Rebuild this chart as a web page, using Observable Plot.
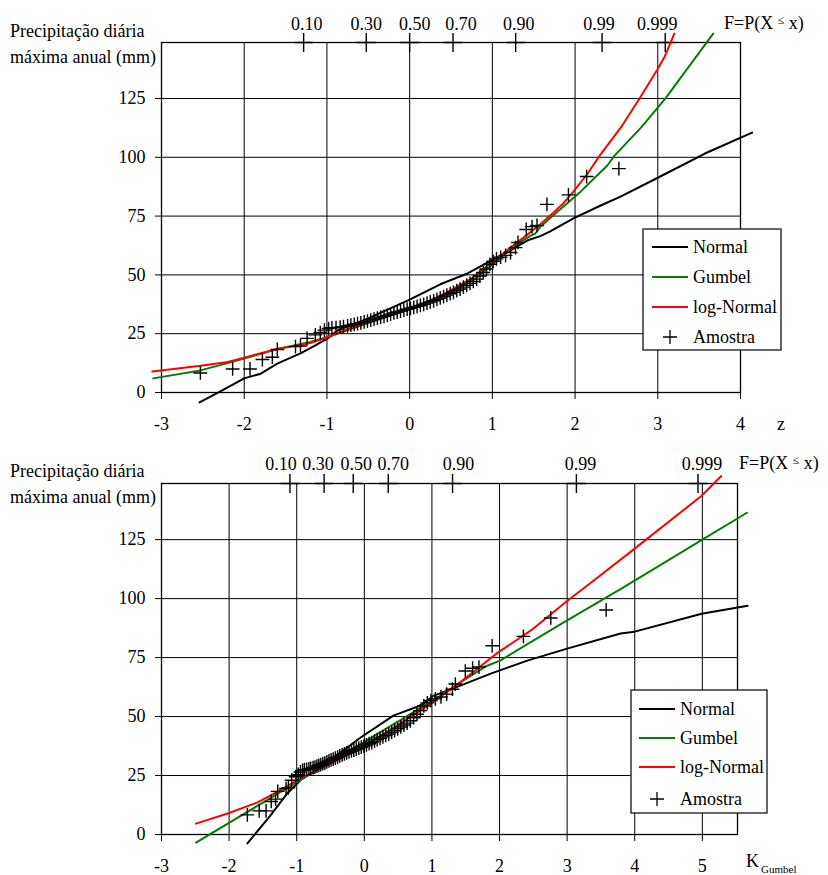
<!DOCTYPE html>
<html>
<head>
<meta charset="utf-8">
<script src="https://cdn.jsdelivr.net/npm/d3@7"></script>
<script src="https://cdn.jsdelivr.net/npm/@observablehq/plot@0.6"></script>
<style>
  body { margin: 0; background: #fff; }
  #wrap { position: relative; width: 828px; height: 875px; overflow: hidden; }
  #wrap, #wrap svg, #wrap svg text { font-family: 'Liberation Serif', serif !important; }
  #wrap svg { display: block; }
  .chart { position: absolute; left: 0; }
  #overlay { position: absolute; left: 0; top: 0; pointer-events: none; }
</style>
</head>
<body>
<div id="wrap">
  <div id="c1" class="chart" style="top:0px"></div>
  <div id="c2" class="chart" style="top:437px"></div>
  <svg id="overlay" width="828" height="875"></svg>
</div>
<script>
// ---------- DATA ----------
const yTicks = [0, 25, 50, 75, 100, 125];
const zAxisTicks = [-3, -2, -1, 0, 1, 2, 3, 4];
const kAxisTicks = [-3, -2, -1, 0, 1, 2, 3, 4, 5];

const probLabels = ["0.10", "0.30", "0.50", "0.70", "0.90", "0.99", "0.999"];
const probZ = [-1.2816, -0.5244, 0, 0.5244, 1.2816, 2.3263, 3.0902];
const probK = [-1.100, -0.595, -0.164, 0.354, 1.305, 3.137, 4.936];

// sample (Amostra): precipitation (mm), position on normal paper (z), position on Gumbel paper (K)
const amostraMM = [
  8.3, 10.0, 10.0, 14.0, 15.0, 18.3, 19.5, 19.8, 23.0, 24.5,
  25.5, 26.5, 27.2, 27.5, 27.6, 27.8, 28.0, 28.3, 28.6, 29.0,
  29.3, 29.6, 30.0, 30.3, 30.8, 31.2, 31.6, 32.0, 32.4, 32.8,
  33.3, 33.8, 34.2, 34.6, 35.0, 35.4, 35.8, 36.2, 36.6, 37.0,
  37.5, 38.0, 38.5, 39.0, 39.6, 40.2, 40.8, 41.4, 42.0, 42.6,
  43.3, 44.0, 44.8, 45.6, 46.4, 47.2, 48.2, 49.5, 51.0, 52.5,
  54.5, 55.8, 56.8, 57.5, 58.3, 59.5, 61.6, 63.8, 69.3, 70.5,
  71.0, 80.0, 84.0, 91.8, 95.2
];
const amostraZ = [
  -2.53, -2.14, -1.93, -1.78, -1.66, -1.60, -1.38, -1.32, -1.24, -1.14,
  -1.08, -1.03, -0.98, -0.94, -0.89, -0.84, -0.80, -0.75, -0.71, -0.67,
  -0.63, -0.59, -0.55, -0.51, -0.47, -0.43, -0.39, -0.35, -0.31, -0.27,
  -0.23, -0.19, -0.15, -0.11, -0.07, -0.03, 0.01, 0.05, 0.09, 0.13,
  0.17, 0.21, 0.25, 0.29, 0.33, 0.37, 0.41, 0.45, 0.49, 0.53,
  0.57, 0.61, 0.65, 0.69, 0.73, 0.77, 0.81, 0.85, 0.89, 0.93,
  0.97, 1.01, 1.05, 1.10, 1.16, 1.22, 1.28, 1.31, 1.41, 1.48,
  1.54, 1.66, 1.92, 2.14, 2.53
];
const amostraK = [
  -1.730, -1.555, -1.453, -1.377, -1.313, -1.281, -1.158, -1.123, -1.075, -1.014,
  -0.976, -0.945, -0.913, -0.886, -0.853, -0.820, -0.793, -0.758, -0.730, -0.701,
  -0.673, -0.644, -0.614, -0.584, -0.554, -0.523, -0.492, -0.460, -0.428, -0.395,
  -0.363, -0.329, -0.295, -0.261, -0.226, -0.190, -0.155, -0.119, -0.082, -0.045,
  -0.007, 0.032, 0.071, 0.110, 0.151, 0.191, 0.233, 0.275, 0.317, 0.361,
  0.404, 0.448, 0.494, 0.540, 0.586, 0.634, 0.681, 0.730, 0.779, 0.829,
  0.880, 0.932, 0.985, 1.051, 1.134, 1.218, 1.303, 1.347, 1.494, 1.602,
  1.696, 1.891, 2.353, 2.758, 3.577
];

// fitted distributions on normal paper: [z, mm]
const normalZ = [[-2.54,-4.2],[-2.3,0.3],[-2.0,6.0],[-1.8,8.0],[-1.6,12.3],[-1.32,16.6],[-1.14,20.0],[-0.99,23.0],[-0.87,26.4],[-0.5,31.5],[0,39.5],[0.37,46],[0.7,50.6],[0.98,56],[1.22,60.4],[1.42,64.6],[1.58,66.5],[1.7,68.5],[1.98,74],[2.31,79.5],[2.55,83.3],[3.0,91.3],[3.57,101.6],[4.14,110.5]];
const gumbelZ = [[-3.1,6.0],[-2.53,9.4],[-2.2,12.5],[-2.0,14.4],[-1.6,18.5],[-1.2,21.5],[-1.0,23.5],[-0.5,29.5],[0,35.5],[0.5,42.5],[0.8,48.5],[1.0,54.5],[1.32,63.6],[1.46,66.6],[1.52,67.6],[1.58,70.5],[1.79,77.0],[2.07,85.5],[2.39,96.5],[2.48,100.8],[2.8,112.7],[3.1,125.4],[3.36,137.8],[3.67,152.6]];
const logNormalZ = [[-3.11,8.9],[-2.5,11.5],[-2.2,13.0],[-2.0,14.8],[-1.6,18.5],[-1.2,21.0],[-1.0,23.4],[-0.75,27.0],[-0.4,31.0],[0,35.5],[0.13,36.8],[0.46,42.8],[0.75,48.5],[0.99,55.3],[1.22,61.6],[1.42,67.0],[1.58,71.5],[1.74,76.5],[1.86,80.5],[1.98,85.4],[2.15,93.0],[2.30,100.8],[2.57,113.5],[2.78,125],[2.99,137],[3.08,142.5],[3.2,152.6]];

// fitted distributions on Gumbel paper: [K, mm]
const normalK = [[-1.73,-3.8],[-1.39,8],[-1.14,17.4],[-0.95,22.9],[-0.45,32.6],[-0.06,41],[0.43,50.4],[0.83,54.7],[1.03,58.9],[1.42,63.1],[1.87,68.2],[2.41,73.7],[3.0,78.8],[3.79,85.2],[4.0,86.0],[4.99,93.6],[5.67,97]];
const gumbelK = [[-2.49,-3.4],[-1.5,13.5],[-1.0,22.2],[0,39.3],[1.0,56.5],[1.42,64.5],[1.79,71.2],[2.01,73.7],[2.4,80.5],[3.0,90.8],[3.79,104],[4.5,116.3],[5.0,125],[5.66,136.4]];
const logNormalK = [[-2.49,4.6],[-2.02,8.9],[-1.58,13.6],[-1.39,16.5],[-1.05,22],[-0.8,25.8],[-0.06,36.4],[0.83,52.5],[1.32,62.3],[1.97,77],[2.46,86.4],[3.0,99],[3.39,107.6],[4.0,121.2],[4.99,143.6],[5.28,152]];

// ---------- LAYOUT ----------
const FONT = "Liberation Serif";
const yDomain = [0, 148.8];

function makeChart({xDomain, xTicks, probPos, nudges, samplesX, curves, height, mt, mb, mr, labelDy}) {
  const sample = amostraMM.map((v, i) => ({x: samplesX[i], y: v}));
  const marks = [
    Plot.gridX(xTicks, {stroke: "black", strokeOpacity: 1, strokeWidth: 1}),
    Plot.gridY(yTicks, {stroke: "black", strokeOpacity: 1, strokeWidth: 1}),
    Plot.frame({stroke: "black", strokeWidth: 1.3}),
    Plot.axisY(yTicks, {tickSize: 6, tickPadding: 10, label: null, fontSize: 18, tickFormat: d => String(d)}),
    Plot.axisX(xTicks, {tickSize: 7, tickPadding: 18, label: null, fontSize: 18, tickFormat: d => d < 0 ? "-" + Math.abs(d) : String(d)}),
    Plot.dot(probPos, {x: d => d, frameAnchor: "top", symbol: "plus", r: 6.1, stroke: "black", strokeWidth: 1.4}),
    ...probPos.map((p, i) => Plot.text([p], {x: d => d, frameAnchor: "top", text: () => probLabels[i], lineAnchor: "bottom", dy: labelDy, dx: nudges[i], fontSize: 18, fill: "black"})),
    ...curves.map(c => Plot.line(c.data, {x: d => d[0], y: d => d[1], stroke: c.color, strokeWidth: 2})),
    Plot.dot(sample, {x: "x", y: "y", symbol: "plus", r: 4.5, stroke: "black", strokeWidth: 1.4})
  ];
  const svg = Plot.plot({
    width: 828, height,
    marginTop: mt, marginBottom: mb, marginLeft: 161, marginRight: mr,
    x: {domain: xDomain}, y: {domain: yDomain},
    style: {fontFamily: FONT, fontSize: "18px", color: "black", background: "white", overflow: "visible"},
    marks
  });
  svg.setAttribute("font-family", FONT);
  svg.querySelectorAll("text, g").forEach(el => el.setAttribute("font-family", FONT));
  return svg;
}

const chart1 = makeChart({
  xDomain: [-3, 4], xTicks: zAxisTicks, probPos: probZ, nudges: [3, 0, 5, 8, 3, -3, -8],
  samplesX: amostraZ, height: 437, mt: 42, mb: 45, mr: 88, labelDy: -13,
  curves: [{data: normalZ, color: "black"}, {data: gumbelZ, color: "#008000"}, {data: logNormalZ, color: "#ff0000"}]
});
const chart2 = makeChart({
  xDomain: [-3, 5.52], xTicks: kAxisTicks, probPos: probK, nudges: [-9, -6, 3, 5, 6, 4, 4],
  samplesX: amostraK, height: 438, mt: 46, mb: 41, mr: 91, labelDy: -14,
  curves: [{data: normalK, color: "black"}, {data: gumbelK, color: "#008000"}, {data: logNormalK, color: "#ff0000"}]
});
document.getElementById("c1").appendChild(chart1);
document.getElementById("c2").appendChild(chart2);

// ---------- TEXT + LEGENDS ----------
const ov = d3.select("#overlay").attr("font-family", FONT).attr("font-size", 18);
function txt(x, y, s, size) {
  return ov.append("text").attr("x", x).attr("y", y).attr("font-family", FONT)
    .attr("font-size", size || 18).attr("fill", "black").text(s);
}
function fLabel(x, y) {
  const t = ov.append("text").attr("x", x).attr("y", y).attr("font-family", FONT).attr("font-size", 18).attr("fill", "black");
  t.append("tspan").text("F=P(X ");
  t.append("tspan").attr("font-size", 12).attr("dy", -5).text("≤");
  t.append("tspan").attr("dy", 5).text(" x)");
}
const legendNames = ["Normal", "Gumbel", "log-Normal", "Amostra"];
const legendColors = ["black", "#008000", "#ff0000", null];
function legend(x, y, w, h, rows, lx0, lx1, tx) {
  ov.append("rect").attr("x", x).attr("y", y).attr("width", w).attr("height", h)
    .attr("fill", "white").attr("stroke", "black").attr("stroke-width", 1.2);
  legendNames.forEach((n, i) => {
    const ry = rows[i];
    if (legendColors[i]) {
      ov.append("line").attr("x1", lx0).attr("x2", lx1).attr("y1", ry).attr("y2", ry)
        .attr("stroke", legendColors[i]).attr("stroke-width", 2);
    } else {
      const cx = (lx0 + lx1) / 2;
      ov.append("path").attr("d", `M${cx - 7},${ry}H${cx + 7}M${cx},${ry - 7}V${ry + 7}`)
        .attr("stroke", "black").attr("stroke-width", 1.3).attr("fill", "none");
    }
    txt(tx, ry + 6, n);
  });
}

// chart 1
txt(10, 37, "Precipitação diária");
txt(10, 63, "máxima anual (mm)");
fLabel(724, 29);
txt(777, 430, "z");
legend(643, 229, 138, 121, [247, 277, 307, 337], 652, 688, 693);

// chart 2
txt(10, 477, "Precipitação diária");
txt(10, 503, "máxima anual (mm)");
fLabel(739, 469);
txt(746, 867, "K");
txt(761, 873, "Gumbel", 11);
legend(631, 690, 136, 123, [709, 738, 767, 799], 639, 675, 680);
</script>
</body>
</html>
